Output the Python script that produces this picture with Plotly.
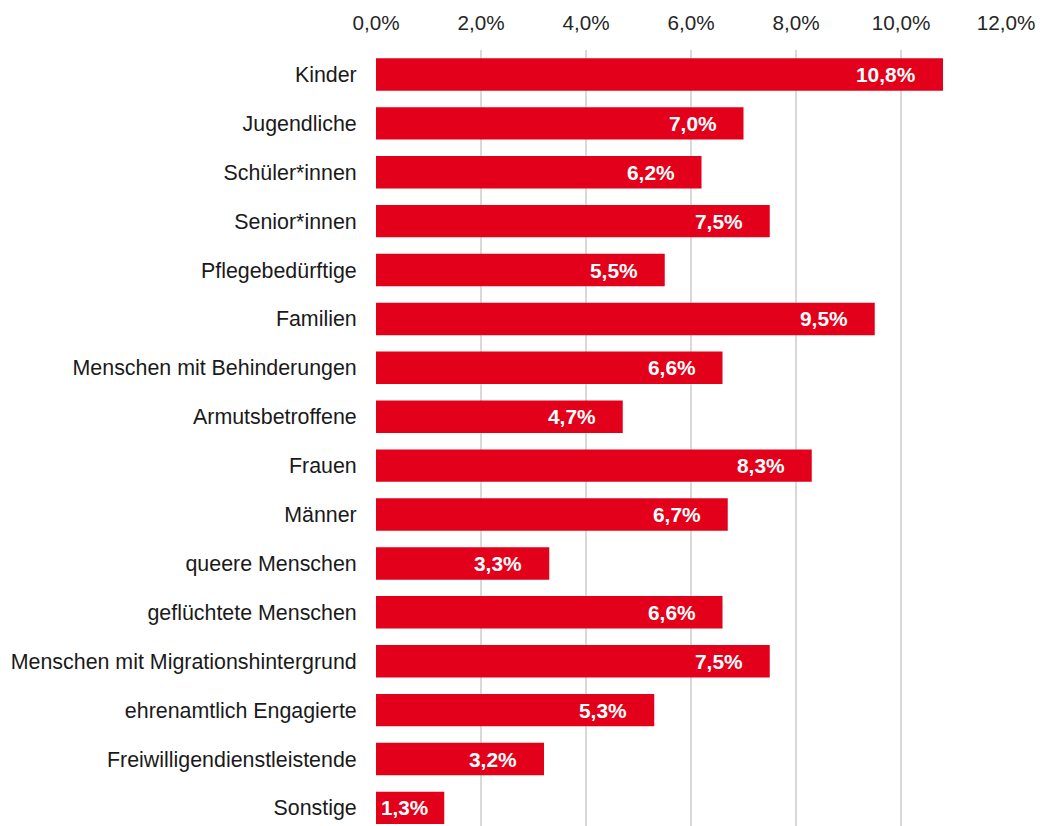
import plotly.graph_objects as go

categories = [
    "Kinder", "Jugendliche", "Schüler*innen", "Senior*innen", "Pflegebedürftige",
    "Familien", "Menschen mit Behinderungen", "Armutsbetroffene", "Frauen", "Männer",
    "queere Menschen", "geflüchtete Menschen", "Menschen mit Migrationshintergrund",
    "ehrenamtlich Engagierte", "Freiwilligendienstleistende", "Sonstige",
]
values = [10.8, 7.0, 6.2, 7.5, 5.5, 9.5, 6.6, 4.7, 8.3, 6.7, 3.3, 6.6, 7.5, 5.3, 3.2, 1.3]
tick_vals = [0, 2, 4, 6, 8, 10, 12]
tick_text = ["0,0%", "2,0%", "4,0%", "6,0%", "8,0%", "10,0%", "12,0%"]

RED = "#E2001A"
FONT = "Liberation Sans, Arial, sans-serif"
W, H = 1041, 826
ML, MR, MT, MB = 376, 35, 50, 0
px_per_unit = (W - ML - MR) / 12.0

fig = go.Figure(go.Bar(
    x=values, y=categories, orientation="h",
    marker=dict(color=RED, line=dict(width=0)),
    width=0.663,
    hoverinfo="skip",
))

def fmt(v):
    return f"{v:.1f}".replace(".", ",") + "%"

annotations = []
label_w = 48
for c, v in zip(categories, values):
    bar_px = v * px_per_unit
    if bar_px - 26 - label_w < 5:
        annotations.append(dict(x=0, y=c, xref="x", yref="y", text=f"<b>{fmt(v)}</b>",
                                showarrow=False, xanchor="left", xshift=3,
                                font=dict(color="white", size=20.7, family=FONT)))
    else:
        annotations.append(dict(x=v, y=c, xref="x", yref="y", text=f"<b>{fmt(v)}</b>",
                                showarrow=False, xanchor="right", xshift=-25,
                                font=dict(color="white", size=20.9, family=FONT)))

fig.update_layout(
    width=W, height=H,
    margin=dict(l=ML, r=MR, t=MT, b=MB, pad=0),
    paper_bgcolor="white", plot_bgcolor="white",
    showlegend=False,
    annotations=annotations,
    xaxis=dict(
        side="top", range=[0, 12], tickvals=tick_vals, ticktext=tick_text,
        showgrid=True, gridcolor="#D9D9D9", gridwidth=1.5,
        zeroline=False, showline=False,
        ticks="outside", ticklen=11, tickcolor="rgba(0,0,0,0)",
        tickfont=dict(size=20.7, color="#262626", family=FONT),
        fixedrange=True,
    ),
    yaxis=dict(
        type="category", categoryorder="array", categoryarray=categories,
        range=[15.37, -0.5],
        showgrid=False, zeroline=False, showline=False,
        ticks="outside", ticklen=14, tickcolor="rgba(0,0,0,0)",
        tickfont=dict(size=21.4, color="#1A1A1A", family=FONT),
        fixedrange=True,
    ),
)

fig.write_html("out.html", config={"displayModeBar": False})

with open("out.html", "r", encoding="utf-8") as f:
    html = f.read()
html = html.replace("<head>", "<head><style>html,body{margin:0;padding:0;overflow:hidden;}</style>", 1)
with open("out.html", "w", encoding="utf-8") as f:
    f.write(html)
